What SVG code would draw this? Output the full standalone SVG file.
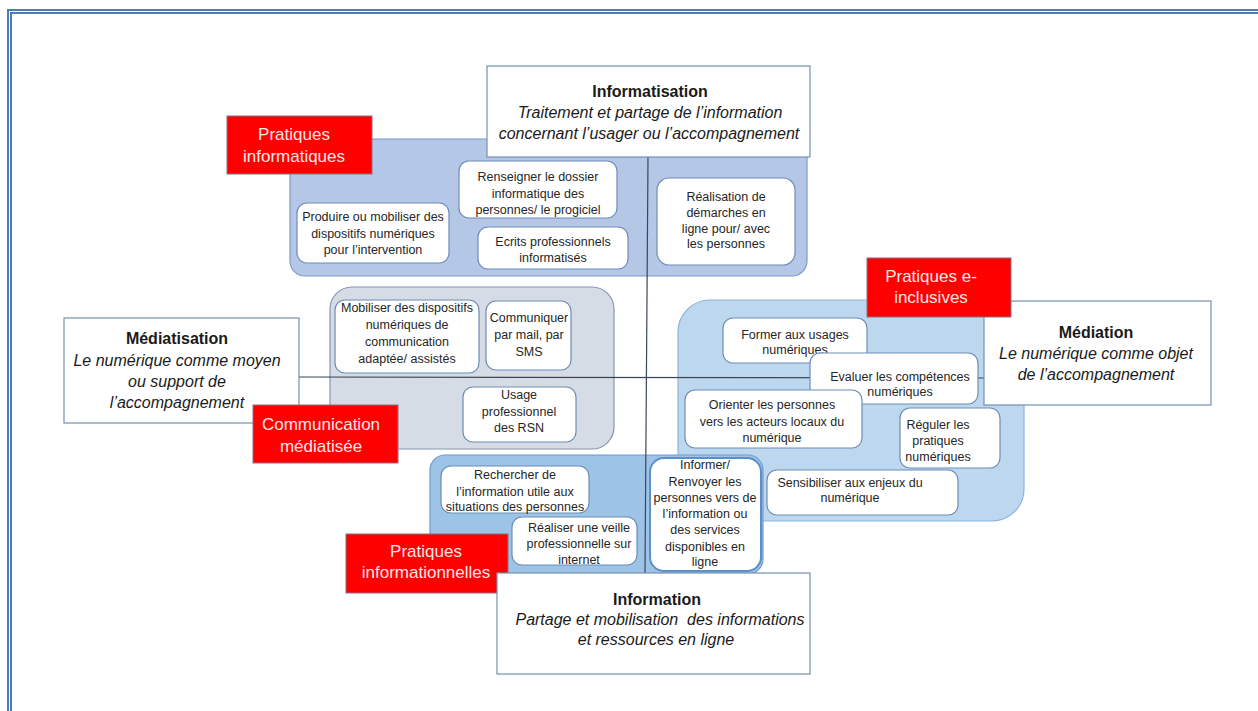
<svg xmlns="http://www.w3.org/2000/svg" width="1258" height="711" viewBox="0 0 1258 711">
  <style>
    .reg-info { fill: #b4c7e7; stroke: #7d99c8; stroke-width: 1.2; }
    .reg-com  { fill: #d6dce5; stroke: #8497b0; stroke-width: 1.2; }
    .reg-incl { fill: #bdd7ee; stroke: #8cb3dd; stroke-width: 1.2; }
    .reg-doc  { fill: #9dc3e6; stroke: #6e9bd0; stroke-width: 1.2; }
    .node rect { fill: #ffffff; stroke: #6d8db5; stroke-width: 1.2; }
    .node text { font-family: "Liberation Sans", Arial, sans-serif; font-size: 12.5px; fill: #262626; text-anchor: middle; }
    .node.strong rect { stroke: #5b8fc9; stroke-width: 2; }
    .head rect { fill: #ffffff; stroke: #7690b0; stroke-width: 1.2; }
    .head text { font-family: "Liberation Sans", Arial, sans-serif; fill: #1a1a1a; text-anchor: middle; }
    .head .title { font-size: 16px; font-weight: bold; }
    .head .sub { font-size: 16px; font-style: italic; }
    .tag rect { fill: #ff0000; stroke: #8b6f84; stroke-width: 1; }
    .tag text { font-family: "Liberation Sans", Arial, sans-serif; font-size: 17px; fill: #fbe6e6; text-anchor: middle; }
    .axis { stroke: #3b4756; stroke-width: 1.2; fill: none; }
    .frame { fill: #4a7ebb; }
  </style>

  <!-- page frame: double rule on top and left -->
  <g id="frame">
    <rect class="frame" x="7" y="9" width="1251" height="2"/>
    <rect class="frame" x="10" y="12" width="1248" height="2"/>
    <rect class="frame" x="7" y="9" width="2" height="702"/>
    <rect class="frame" x="10" y="12" width="2" height="699"/>
  </g>

  <!-- practice areas -->
  <g id="areas">
    <rect id="area-informatique" class="reg-info" x="290" y="139" width="517" height="137" rx="15"/>
    <rect id="area-communication" class="reg-com" x="330" y="287" width="284" height="162" rx="22"/>
    <rect id="area-inclusion" class="reg-incl" x="678" y="300" width="346" height="221" rx="32"/>
    <rect id="area-information" class="reg-doc" x="430" y="455" width="333" height="119" rx="15"/>
  </g>

  <!-- the two axes -->
  <g id="connectors">
    <line class="axis" x1="648" y1="157" x2="645" y2="573"/>
    <line class="axis" x1="299" y1="377" x2="984" y2="378"/>
  </g>

  <!-- practices -->
  <g id="n-renseigner" class="node">
    <rect x="459" y="161" width="158" height="57" rx="10"/>
    <text x="538"><tspan x="538" y="181">Renseigner le dossier</tspan><tspan x="538" y="198">informatique des</tspan><tspan x="538" y="214">personnes/ le progiciel</tspan></text>
  </g>
  <g id="n-produire" class="node">
    <rect x="297" y="203" width="152" height="60" rx="10"/>
    <text x="373"><tspan x="373" y="221">Produire ou mobiliser des</tspan><tspan x="373" y="238">dispositifs numériques</tspan><tspan x="373" y="254">pour l’intervention</tspan></text>
  </g>
  <g id="n-ecrits" class="node">
    <rect x="478" y="227" width="150" height="42" rx="10"/>
    <text x="553"><tspan x="553" y="246">Ecrits professionnels</tspan><tspan x="553" y="262">informatisés</tspan></text>
  </g>
  <g id="n-demarches" class="node">
    <rect x="657" y="178" width="138" height="87" rx="12"/>
    <text x="726"><tspan x="726" y="201">Réalisation de</tspan><tspan x="726" y="217">démarches en</tspan><tspan x="726" y="233">ligne pour/ avec</tspan><tspan x="726" y="248">les personnes</tspan></text>
  </g>

  <g id="n-mobiliser" class="node">
    <rect x="335" y="300" width="144" height="73" rx="10"/>
    <text x="407"><tspan x="407" y="312">Mobiliser des dispositifs</tspan><tspan x="407" y="329">numériques de</tspan><tspan x="407" y="346">communication</tspan><tspan x="407" y="363">adaptée/ assistés</tspan></text>
  </g>
  <g id="n-communiquer" class="node">
    <rect x="486" y="301" width="85" height="69" rx="10"/>
    <text x="529"><tspan x="529" y="322">Communiquer</tspan><tspan x="529" y="339">par mail, par</tspan><tspan x="529" y="356">SMS</tspan></text>
  </g>
  <g id="n-rsn" class="node">
    <rect x="463" y="387" width="113" height="55" rx="10"/>
    <text x="519"><tspan x="519" y="399">Usage</tspan><tspan x="519" y="416">professionnel</tspan><tspan x="519" y="432">des RSN</tspan></text>
  </g>

  <g id="n-former" class="node">
    <rect x="723" y="318" width="144" height="45" rx="10"/>
    <text x="795"><tspan x="795" y="339">Former aux usages</tspan><tspan x="795" y="354">numériques</tspan></text>
  </g>
  <g id="n-evaluer" class="node">
    <rect x="810" y="353" width="168" height="51" rx="10"/>
    <text x="900"><tspan x="900" y="381">Evaluer les compétences</tspan><tspan x="900" y="396">numériques</tspan></text>
  </g>
  <g id="n-orienter" class="node">
    <rect x="685" y="390" width="177" height="58" rx="10"/>
    <text x="772"><tspan x="772" y="409">Orienter les personnes</tspan><tspan x="772" y="426">vers les acteurs locaux du</tspan><tspan x="772" y="442">numérique</tspan></text>
  </g>
  <g id="n-reguler" class="node">
    <rect x="900" y="408" width="100" height="60" rx="10"/>
    <text x="938"><tspan x="938" y="429">Réguler les</tspan><tspan x="938" y="445">pratiques</tspan><tspan x="938" y="461">numériques</tspan></text>
  </g>
  <g id="n-sensibiliser" class="node">
    <rect x="767" y="470" width="191" height="45" rx="10"/>
    <text x="850"><tspan x="850" y="487">Sensibiliser aux enjeux du</tspan><tspan x="850" y="502">numérique</tspan></text>
  </g>

  <g id="n-rechercher" class="node">
    <rect x="441" y="466" width="148" height="47" rx="10"/>
    <text x="515"><tspan x="515" y="479">Rechercher de</tspan><tspan x="515" y="496">l’information utile aux</tspan><tspan x="515" y="511">situations des personnes</tspan></text>
  </g>
  <g id="n-veille" class="node">
    <rect x="512" y="517" width="125" height="48" rx="10"/>
    <text x="579"><tspan x="579" y="532">Réaliser une veille</tspan><tspan x="579" y="548">professionnelle sur</tspan><tspan x="579" y="564">internet</tspan></text>
  </g>
  <g id="n-informer" class="node strong">
    <rect x="650" y="458" width="111" height="113" rx="14"/>
    <text x="705"><tspan x="705" y="469">Informer/</tspan><tspan x="705" y="486">Renvoyer les</tspan><tspan x="705" y="502">personnes vers de</tspan><tspan x="705" y="518">l’information ou</tspan><tspan x="705" y="534">des services</tspan><tspan x="705" y="551">disponibles en</tspan><tspan x="705" y="566">ligne</tspan></text>
  </g>

  <!-- pole headings -->
  <g id="h-informatisation" class="head">
    <rect x="487" y="66" width="323" height="91"/>
    <text class="title" x="650" y="97">Informatisation</text>
    <text class="sub" x="650" y="118">Traitement et partage de l’information</text>
    <text class="sub" x="649" y="139">concernant l’usager ou l’accompagnement</text>
  </g>
  <g id="h-mediatisation" class="head">
    <rect x="64" y="318" width="235" height="105"/>
    <text class="title" x="177" y="344">Médiatisation</text>
    <text class="sub" x="177" y="366">Le numérique comme moyen</text>
    <text class="sub" x="177" y="387">ou support de</text>
    <text class="sub" x="177" y="408">l’accompagnement</text>
  </g>
  <g id="h-mediation" class="head">
    <rect x="984" y="301" width="227" height="104"/>
    <text class="title" x="1096" y="338">Médiation</text>
    <text class="sub" x="1096" y="359">Le numérique comme objet</text>
    <text class="sub" x="1096" y="380">de l’accompagnement</text>
  </g>

  <!-- red practice labels -->
  <g id="t-informatiques" class="tag">
    <rect x="227" y="116" width="145" height="58"/>
    <text x="294"><tspan x="294" y="140">Pratiques</tspan><tspan x="294" y="162">informatiques</tspan></text>
  </g>
  <g id="t-inclusives" class="tag">
    <rect x="867" y="258" width="144" height="59"/>
    <text x="931"><tspan x="931" y="282">Pratiques e-</tspan><tspan x="931" y="303">inclusives</tspan></text>
  </g>
  <g id="t-communication" class="tag">
    <rect x="253" y="405" width="145" height="58"/>
    <text x="321"><tspan x="321" y="430">Communication</tspan><tspan x="321" y="452">médiatisée</tspan></text>
  </g>
  <g id="t-informationnelles" class="tag">
    <rect x="346" y="534" width="162" height="59"/>
    <text x="426"><tspan x="426" y="557">Pratiques</tspan><tspan x="426" y="578">informationnelles</tspan></text>
  </g>

  <g id="h-information" class="head">
    <rect x="497" y="573" width="313" height="101"/>
    <text class="title" x="657" y="605">Information</text>
    <text class="sub" x="660" y="625" xml:space="preserve">Partage et mobilisation  des informations</text>
    <text class="sub" x="656" y="645">et ressources en ligne</text>
  </g>
</svg>
